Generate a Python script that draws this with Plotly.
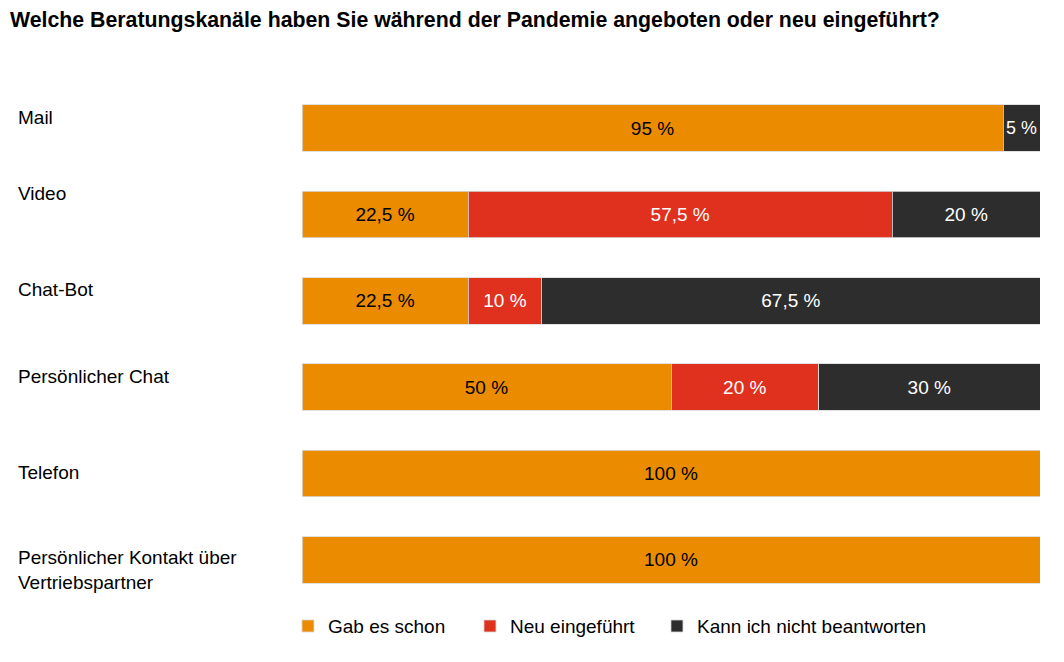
import plotly.graph_objects as go

categories = ["Mail", "Video", "Chat-Bot", "Persönlicher Chat", "Telefon",
              "Persönlicher Kontakt über<br>Vertriebspartner"]
series_names = ["Gab es schon", "Neu eingeführt", "Kann ich nicht beantworten"]
gab_es_schon = [95, 22.5, 22.5, 50, 100, 100]
neu_eingefuehrt = [0, 57.5, 10, 20, 0, 0]
kann_nicht = [5, 20, 67.5, 30, 0, 0]
colors = ["#EB8C00", "#E0301E", "#2D2D2D"]
text_colors = ["#000000", "#FFFFFF", "#FFFFFF"]
# vertical pixel offset of each category label relative to its bar centre
label_shift = [11, 21, 11, 11, 1, -10]
legend_widths = [137, 142, 240]

FONT = "Liberation Sans, Arial, Helvetica, sans-serif"
FS = 19


def fmt(v):
    if v == 0:
        return ""
    return f"{v:g}".replace(".", ",") + " %"


fig = go.Figure()
for name, vals, col, tcol, lw in zip(series_names, [gab_es_schon, neu_eingefuehrt, kann_nicht],
                                     colors, text_colors, legend_widths):
    fig.add_trace(go.Bar(
        y=categories, x=vals, name=name, orientation="h",
        marker=dict(color=col, line=dict(color="#d9d9d9", width=0.8)),
        text=[fmt(v) for v in vals], textposition="inside",
        insidetextanchor="middle", textangle=0,
        textfont=dict(color=tcol, size=FS, family=FONT),
        hoverinfo="skip", legendwidth=lw,
    ))

for c, s in zip(categories, label_shift):
    fig.add_annotation(
        x=0, xref="paper", xanchor="left", xshift=-286,
        y=c, yref="y", yanchor="middle", yshift=s,
        text=c, showarrow=False, align="left",
        font=dict(size=FS, color="#000000", family=FONT),
    )

fig.update_layout(
    width=1064, height=662,
    barmode="stack", bargap=0.46,
    paper_bgcolor="white", plot_bgcolor="white",
    margin=dict(l=302, r=24, t=85, b=59),
    font=dict(family=FONT, size=FS, color="#000000"),
    title=dict(text="<b>Welche Beratungskanäle haben Sie während der Pandemie angeboten oder neu eingeführt?</b>",
               x=0, xanchor="left", y=0.97, yanchor="middle",
               font=dict(size=21.3, family=FONT, color="#000000"), pad=dict(l=10)),
    xaxis=dict(range=[0, 100], visible=False, fixedrange=True),
    yaxis=dict(autorange="reversed", showticklabels=False, showgrid=False, zeroline=False, ticks=""),
    legend=dict(orientation="h", x=-0.019, xanchor="left", y=-0.008, yanchor="top",
                font=dict(size=FS, family=FONT), traceorder="normal",
                itemwidth=30),
    showlegend=True,
)
fig.update_layout(title_xref="container")

fig.write_html("out.html")
